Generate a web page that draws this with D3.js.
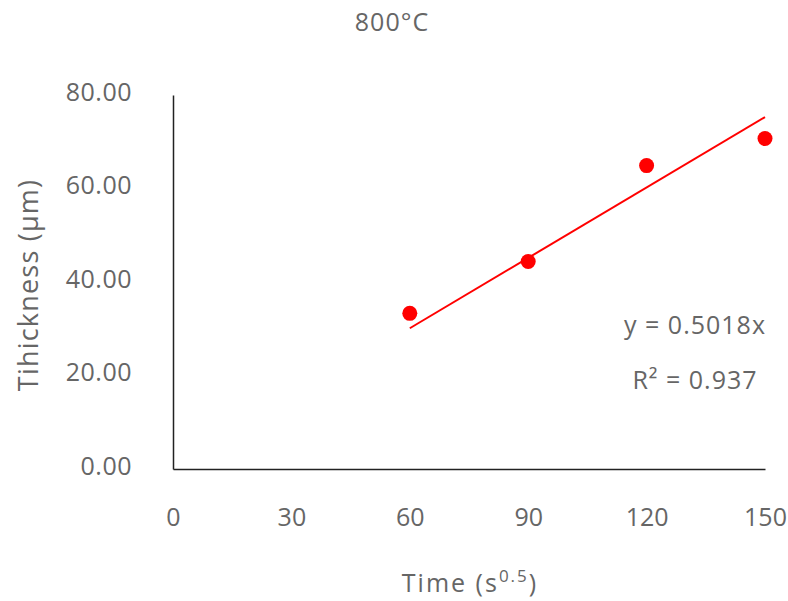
<!DOCTYPE html>
<html>
<head>
<meta charset="utf-8">
<script src="https://cdn.jsdelivr.net/npm/d3@7"></script>
<style>
  body { margin: 0; background: #fff; }
  text { font-family: "Open Sans", "Noto Sans", sans-serif; fill: #666666; }
</style>
</head>
<body>
<div id="chart"></div>
<script>
// data
var times = [60, 90, 120, 150];
var thickness = [33.3, 44.4, 64.9, 70.7];
var xTicks = [0, 30, 60, 90, 120, 150];
var yTicks = [0, 20, 40, 60, 80];
var slope = 0.5018;
var rSquared = "0.937";

var width = 788, height = 601;
var margin = {left: 173, right: 23, top: 95, bottom: 132};
var fontFam = "Open Sans, Noto Sans, sans-serif";

var svg = d3.select("#chart").append("svg")
    .attr("width", width)
    .attr("height", height);

var xScale = d3.scaleLinear().domain([0, 150]).range([margin.left, width - margin.right]);
var yScale = d3.scaleLinear().domain([0, 80]).range([height - margin.bottom, margin.top]);

// title
svg.append("text")
    .attr("x", 392)
    .attr("y", 31)
    .attr("text-anchor", "middle")
    .attr("font-size", "25px")
    .attr("letter-spacing", "1px")
    .text("800°C");

// x axis
var xAxis = svg.append("g")
    .attr("transform", "translate(0," + yScale(0) + ")")
    .call(d3.axisBottom(xScale).tickValues(xTicks).tickSize(0).tickPadding(44));
xAxis.select(".domain").attr("stroke", "#222").attr("stroke-width", 1.5);
xAxis.selectAll("text")
    .attr("font-size", "25px")
    .attr("fill", "#666666")
    .attr("font-family", fontFam)
    .attr("dy", "0.5em");

// y axis
var yAxis = svg.append("g")
    .attr("transform", "translate(" + xScale(0) + ",0)")
    .call(d3.axisLeft(yScale).tickValues(yTicks).tickSize(0).tickPadding(41)
        .tickFormat(d3.format(".2f")));
yAxis.select(".domain").attr("stroke", "#222").attr("stroke-width", 1.5);
yAxis.selectAll("text")
    .attr("font-size", "25px")
    .attr("fill", "#666666")
    .attr("font-family", fontFam)
    .attr("letter-spacing", "0.5px")
    .attr("dy", "0.2em");

// axis titles
var xt = svg.append("text")
    .attr("x", 470)
    .attr("y", 592)
    .attr("text-anchor", "middle")
    .attr("font-size", "25px")
    .attr("letter-spacing", "2px");
xt.append("tspan").text("Time (s");
xt.append("tspan").attr("font-size", "17px").attr("dy", -10).text("0.5");
xt.append("tspan").attr("dy", 10).text(")");

svg.append("text")
    .attr("transform", "translate(38,285) rotate(-90)")
    .attr("text-anchor", "middle")
    .attr("font-size", "27px")
    .attr("letter-spacing", "1.2px")
    .text("Tihickness (µm)");

// trendline
var fit = [times[0], times[times.length - 1]];
svg.append("line")
    .attr("x1", xScale(fit[0]))
    .attr("y1", yScale(slope * fit[0]))
    .attr("x2", xScale(fit[1]))
    .attr("y2", yScale(slope * fit[1]))
    .attr("stroke", "#ff0000")
    .attr("stroke-width", 2);

// points
svg.selectAll("circle.pt")
    .data(times)
    .enter().append("circle")
    .attr("class", "pt")
    .attr("cx", function(d) { return xScale(d); })
    .attr("cy", function(d, i) { return yScale(thickness[i]); })
    .attr("r", 7.5)
    .attr("fill", "#ff0000");

// equation labels
svg.append("text")
    .attr("x", 695)
    .attr("y", 334)
    .attr("text-anchor", "middle")
    .attr("font-size", "25px")
    .attr("letter-spacing", "1px")
    .text("y = " + slope + "x");

svg.append("text")
    .attr("x", 695)
    .attr("y", 389)
    .attr("text-anchor", "middle")
    .attr("font-size", "25px")
    .attr("letter-spacing", "1px")
    .text("R² = " + rSquared);
</script>
</body>
</html>
